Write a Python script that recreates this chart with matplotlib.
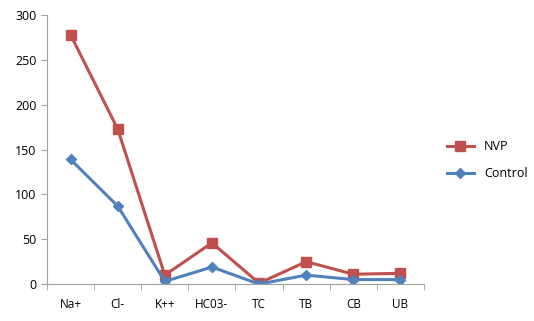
import matplotlib.pyplot as plt
import numpy as np

# chart data
categories = ["Na+", "Cl-", "K++", "HC03-", "TC", "TB", "CB", "UB"]
nvp = [278, 173, 10, 46, 1, 25, 11, 12]
control = [139, 87, 3, 19, 0, 10, 5, 5]
y_ticks = [0, 50, 100, 150, 200, 250, 300]

plt.rcParams['font.family'] = ['Open Sans', 'DejaVu Sans']

fig = plt.figure(figsize=(5.34, 3.21), dpi=100)
ax = fig.add_axes([0.088, 0.115, 0.706, 0.838])

x = np.arange(len(categories))
ax.plot(x, nvp, color='#C0504D', linewidth=2.2, marker='s', markersize=7,
        label='NVP')
ax.plot(x, control, color='#4F81BD', linewidth=2.2, marker='D', markersize=5,
        label='Control')

ax.set_xlim(-0.5, len(categories) - 0.5)
ax.set_ylim(0, 300)
ax.set_yticks(y_ticks)
ax.set_xticks(x)
ax.set_xticklabels(categories)
# tick marks at category boundaries like excel
ax.set_xticks(np.arange(-0.5, len(categories), 1), minor=True)
ax.tick_params(axis='x', which='major', length=0, pad=10, labelsize=8.5)
ax.tick_params(axis='x', which='minor', length=4, color='#A0A0A0')
ax.tick_params(axis='y', length=4, color='#A0A0A0', labelsize=9)

for side in ['top', 'right']:
    ax.spines[side].set_visible(False)
for side in ['left', 'bottom']:
    ax.spines[side].set_color('#A0A0A0')

ax.legend(loc='center left', bbox_to_anchor=(1.03, 0.46), frameon=False,
          fontsize=9, handlelength=2.2, labelspacing=1.1)

fig.savefig('out.png', dpi=100)
